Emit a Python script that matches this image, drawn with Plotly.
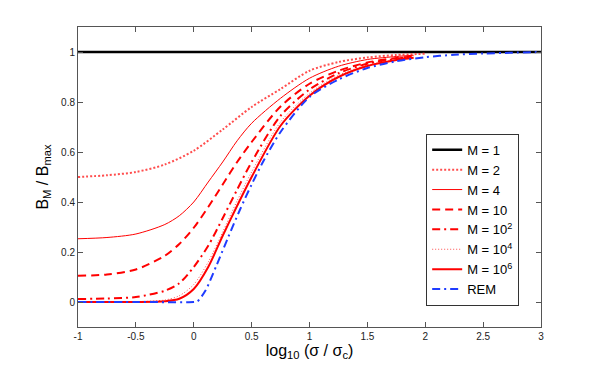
import plotly.graph_objects as go

x_m1 = [-1, 3]
y_m1 = [1, 1]

x_m2 = [-1, -0.75, -0.5, -0.25, 0, 0.25, 0.5, 0.75, 1.0, 1.25, 1.5, 1.75, 2.0]
y_m2 = [0.50, 0.507, 0.52, 0.55, 0.605, 0.69, 0.78, 0.852, 0.925, 0.96, 0.978, 0.988, 0.993]

x_red = [-1, -0.75, -0.5, -0.25, -0.125, 0, 0.125, 0.25, 0.375, 0.5, 0.75, 1.0, 1.25, 1.5, 1.75, 1.9]
y_m4 = [0.253, 0.258, 0.272, 0.31, 0.345, 0.40, 0.48, 0.56, 0.645, 0.715, 0.815, 0.895, 0.943, 0.97, 0.982, 0.987]
y_m10 = [0.105, 0.11, 0.13, 0.185, 0.232, 0.297, 0.38, 0.47, 0.56, 0.64, 0.782, 0.873, 0.925, 0.958, 0.976, 0.983]
y_m1e2 = [0.012, 0.014, 0.02, 0.045, 0.075, 0.14, 0.225, 0.335, 0.45, 0.56, 0.745, 0.85, 0.915, 0.953, 0.973, 0.981]
y_m1e4 = [0.0, 0.0, 0.001, 0.008, 0.025, 0.07, 0.16, 0.28, 0.405, 0.52, 0.72, 0.835, 0.907, 0.948, 0.97, 0.979]
y_m1e6 = [0.0, 0.0, 0.0, 0.003, 0.013, 0.052, 0.14, 0.265, 0.385, 0.50, 0.705, 0.825, 0.9, 0.944, 0.968, 0.977]

x_rem = [-1, -0.5, 0.0, 0.03, 0.1, 0.2, 0.3, 0.4, 0.5, 0.6, 0.75, 1.0, 1.25, 1.5, 1.75, 2.0, 2.25, 2.5, 2.75, 3.0]
y_rem = [0, 0, 0, 0.002, 0.045, 0.15, 0.262, 0.37, 0.47, 0.562, 0.68, 0.82, 0.89, 0.936, 0.963, 0.979, 0.989, 0.994, 0.997, 1.0]

red = "#ff0000"
pink = "#ff4d4d"
series = [
    ("M = 1", x_m1, y_m1, "black", 2.5, "solid"),
    ("M = 2", x_m2, y_m2, pink, 2, "2px,2px"),
    ("M = 4", x_red, y_m4, red, 1, "solid"),
    ("M = 10", x_red, y_m10, red, 2, "8px,5px"),
    ("M = 10<sup>2</sup>", x_red, y_m1e2, red, 2, "8px,4px,2px,4px"),
    ("M = 10<sup>4</sup>", x_red, y_m1e4, pink, 1, "1px,2px"),
    ("M = 10<sup>6</sup>", x_red, y_m1e6, red, 2, "solid"),
    ("REM", x_rem, y_rem, "#1f3cff", 2, "8px,4px,2px,4px"),
]

fig = go.Figure()
for name, xs, ys, color, width, dash in series:
    fig.add_trace(go.Scatter(x=xs, y=ys, mode="lines", name=name,
                             line=dict(color=color, width=width, dash=dash, shape="spline", smoothing=0.8)))

xt = [-1, -0.5, 0, 0.5, 1, 1.5, 2, 2.5, 3]
yt = [0, 0.2, 0.4, 0.6, 0.8, 1]
axis_common = dict(showgrid=False, zeroline=False, showline=True, linecolor="#555555", linewidth=1,
                   mirror="ticks", ticks="inside", ticklen=5, tickcolor="#555555", automargin=False,
                   tickfont=dict(family="Liberation Sans, Arial", size=10, color="#222222"))
fig.update_xaxes(range=[-1, 3], tickvals=xt, ticktext=[str(v) for v in xt],
                 title=dict(text="log<sub>10</sub> (σ / σ<sub>c</sub>)", font=dict(size=16, color="black"), standoff=0),
                 **axis_common)
fig.update_yaxes(range=[-0.1, 1.1], tickvals=yt, ticktext=[str(v) for v in yt],
                 title=dict(text="B<sub>M</sub> / B<sub>max</sub>", font=dict(size=16, color="black"), standoff=8),
                 **axis_common)
# the page body adds an 8px offset, so margins are shifted to compensate
fig.update_layout(
    width=598, height=368, template="plotly_white",
    plot_bgcolor="white", paper_bgcolor="white",
    margin=dict(l=70, r=65, t=19, b=49),
    font=dict(family="Liberation Sans, Arial", color="black"),
    legend=dict(x=0.752, y=0.644, xanchor="left", yanchor="top", bgcolor="white",
                bordercolor="#333333", borderwidth=1, font=dict(size=13),
                tracegroupgap=0, itemwidth=30),
)
fig.write_html("out.html")
